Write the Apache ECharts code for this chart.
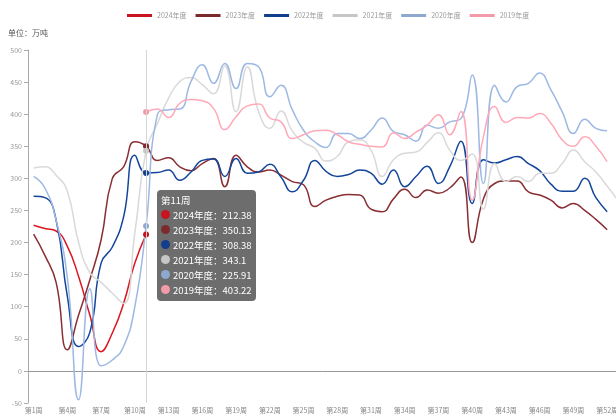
<!DOCTYPE html>
<html>
<head>
<meta charset="utf-8">
<script src="https://cdn.jsdelivr.net/npm/echarts@6/dist/echarts.min.js"></script>
<style>
  html, body { margin: 0; padding: 0; background: #fff; }
  #chart { width: 616px; height: 417px; }
</style>
</head>
<body>
<div id="chart"></div>
<script>
// week categories (53, the last one runs off the right edge)
var weeks = [
  '第1周', '第2周', '第3周', '第4周', '第5周', '第6周', '第7周', '第8周', '第9周', '第10周',
  '第11周', '第12周', '第13周', '第14周', '第15周', '第16周', '第17周', '第18周', '第19周', '第20周',
  '第21周', '第22周', '第23周', '第24周', '第25周', '第26周', '第27周', '第28周', '第29周', '第30周',
  '第31周', '第32周', '第33周', '第34周', '第35周', '第36周', '第37周', '第38周', '第39周', '第40周',
  '第41周', '第42周', '第43周', '第44周', '第45周', '第46周', '第47周', '第48周', '第49周', '第50周',
  '第51周', '第52周', '第53周'
];

var seriesNames = ['2024年度', '2023年度', '2022年度', '2021年度', '2020年度', '2019年度'];

var y2024 = [227, 222, 218, 194, 147, 87, 30, 59, 105, 168, 212.38];

var y2023 = [
  213, 180, 138, 33, 87, 142, 204, 300, 318, 357,
  350.13, 328, 332, 318, 312, 323, 331, 287, 336, 318,
  310, 313, 305, 295, 290, 256, 266, 272, 275, 274,
  252, 248, 268, 283, 270, 282, 277, 285, 302, 200,
  268, 292, 296, 296, 279, 274, 266, 254, 261, 250,
  236, 220
];

var y2022 = [
  272, 270, 235, 116, 38, 60, 168, 193, 240, 336,
  308.38, 309, 313, 297, 310, 328, 330, 303, 331, 308,
  310, 322, 302, 279, 297, 328, 311, 303, 306, 313,
  308, 291, 313, 287, 303, 319, 292, 318, 358, 261,
  329, 324, 329, 334, 323, 312, 291, 280, 280, 300,
  270, 248
];

var y2021 = [
  316, 318, 305, 280, 200, 153, 138, 121, 105, 215,
  343.1, 385, 425, 451, 457, 446, 432, 475, 404, 474,
  404, 378, 405, 374, 356, 347, 327, 334, 357, 360,
  344, 303, 329, 339, 341, 356, 371, 344, 328, 338,
  252, 323, 295, 303, 295, 308, 308, 323, 344, 326,
  310, 288, 265
];

var y2020 = [
  303, 285, 235, 145, -45, 128, 8, 17, 38, 100,
  225.91, 399, 407, 408, 451, 477, 448, 479, 440, 479,
  474, 427, 445, 407, 375, 357, 348, 370, 370, 362,
  375, 394, 373, 368, 358, 383, 378, 388, 393, 461,
  292, 445, 419, 443, 448, 464, 438, 404, 370, 392,
  378, 374
];

var y2019 = [
  null, null, null, null, null, null, null, null, null, null,
  403.22, 408, 395, 417, 423, 421, 409, 376, 396, 413,
  416, 394, 388, 362, 368, 374, 375, 368, 357, 353,
  350, 349, 371, 362, 372, 383, 399, 368, 404, 266,
  365, 412, 387, 395, 394, 401, 386, 360, 350, 365,
  350, 326
];

var colors = ['#c8141e', '#7d2a2e', '#123f8c', '#c6c6c6', '#8ea8cf', '#f29aa8'];
var values = [y2024, y2023, y2022, y2021, y2020, y2019];

var chart = echarts.init(document.getElementById('chart'));

var options = {
  animation: false,
  color: colors,
  textStyle: { fontFamily: "'Noto Sans CJK SC', 'Noto Sans', sans-serif" },
  title: {
    text: '单位：万吨',
    left: 3,
    top: 24,
    textStyle: { fontSize: 8, fontWeight: 'normal', color: '#555' }
  },
  legend: {
    data: seriesNames,
    left: 122,
    top: 7,
    icon: 'rect',
    itemWidth: 25,
    itemHeight: 3,
    itemGap: 9,
    textStyle: { fontSize: 7, color: '#999' }
  },
  grid: { left: 28, right: -8, top: 50, bottom: 14, containLabel: false, outerBoundsMode: 'none' },
  tooltip: {
    trigger: 'axis',
    position: [157, 190],
    transitionDuration: 0,
    backgroundColor: 'rgba(85,85,85,0.86)',
    borderWidth: 0,
    padding: [3, 4],
    textStyle: { color: '#fff', fontSize: 9.5 },
    extraCssText: 'box-shadow:none;border-radius:4px;',
    axisPointer: { type: 'line', lineStyle: { color: '#d6d6d6', width: 1, type: 'solid' } },
    formatter: function (params) {
      var s = '<div style="line-height:15px">' + params[0].axisValue + '</div>';
      params.forEach(function (p) {
        if (p.value == null) return;
        var dot = '<span style="display:inline-block;width:9px;height:9px;border-radius:50%;margin-right:3px;background:' + p.color + '"></span>';
        s += '<div style="line-height:15px">' + dot + p.seriesName + '：' + p.value + '</div>';
      });
      return s;
    }
  },
  xAxis: [
    {
      // labels along the bottom edge
      type: 'category',
      data: weeks,
      boundaryGap: true,
      position: 'bottom',
      axisPointer: { lineStyle: { type: 'solid' } },
      axisLine: { show: false, onZero: false },
      axisTick: { show: false },
      axisLabel: { interval: 2, margin: 4, fontSize: 7, color: '#888' },
      splitLine: { show: false }
    },
    {
      // the line and ticks at zero
      type: 'category',
      data: weeks,
      boundaryGap: true,
      position: 'bottom',
      axisPointer: { show: false },
      axisLine: { onZero: true, lineStyle: { color: '#999' } },
      axisTick: { interval: 2, length: 4, lineStyle: { color: '#999' } },
      axisLabel: { show: false },
      splitLine: { show: false }
    }
  ],
  yAxis: {
    type: 'value',
    min: -50,
    max: 500,
    interval: 50,
    axisLine: { show: true, onZero: false, lineStyle: { color: '#aaa' } },
    axisTick: { show: true, length: 4, lineStyle: { color: '#aaa' } },
    axisLabel: { fontSize: 7, color: '#999', margin: 6 },
    splitLine: { show: false }
  },
  series: seriesNames.map(function (name, i) {
    return {
      name: name,
      type: 'line',
      data: values[i],
      smooth: true,
      showSymbol: false,
      symbol: 'circle',
      symbolSize: 6,
      lineStyle: { width: 1.5 },
      emphasis: { scale: false, lineStyle: { width: 1.5 } }
    };
  })
};

chart.setOption(options);
chart.dispatchAction({ type: 'showTip', seriesIndex: 0, dataIndex: 10 });
</script>
</body>
</html>
